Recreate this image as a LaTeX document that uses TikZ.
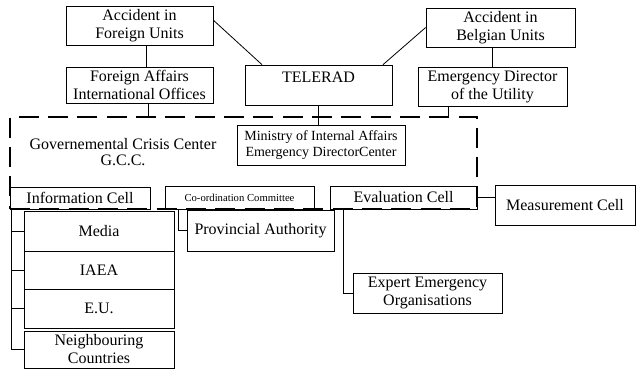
\documentclass[tikz,border=0pt]{standalone}
\usepackage{fontspec}
\setmainfont{Liberation Serif}
\usepackage{tikz}
\tikzstyle{box}=[draw, line width=0.5pt, align=center, inner sep=0pt, font=\fontsize{12}{13.5}\selectfont]
\tikzstyle{frame}=[draw, line width=1.6pt, dash pattern=on 15pt off 7pt]
\tikzstyle{link}=[draw=black, line width=0.6pt]

\begin{document}
\begin{tikzpicture}[x=0.75pt, y=-0.75pt]
		   \useasboundingbox (0,0) rectangle (637,370);
		   \begin{scope}
			   \node (accforeign) at (139.5, 25.5)[box, minimum width=110.25pt, minimum height=29.25pt] {Accident in\\Foreign Units};
			   \node (foreignaff) at (139.5, 85)[box, minimum width=110.25pt, minimum height=27pt] {Foreign Affairs\\International Offices};
			   \node (telerad) at (318.5, 85)[box, minimum width=110.25pt, minimum height=30pt, text depth=12pt] {TELERAD};
			   \node (accbelgian) at (500.5, 27.5)[box, minimum width=111.75pt, minimum height=29.25pt] {Accident in\\Belgian Units};
			   \node (emdirector) at (492.5, 86.5)[box, minimum width=111.75pt, minimum height=29.25pt] {Emergency Director\\of the Utility};

			   \node (gccframe) at (243.5, 163)[frame, minimum width=350.25pt, minimum height=69pt] {};
			   \node (gcc) at (123, 152)[align=center, font=\fontsize{12}{12}\selectfont] {Governemental Crisis Center\\G.C.C.};
			   \node (ministry) at (321, 145)[box, minimum width=126pt, minimum height=30pt, font=\fontsize{10.5}{12.5}\selectfont] {Ministry of Internal Affairs\\Emergency DirectorCenter};

			   \node (infocell) at (80, 198)[box, minimum width=105pt, minimum height=16.5pt] {Information Cell};
			   \node (coordcom) at (239.5, 197.5)[box, minimum width=111.75pt, minimum height=17.25pt, font=\fontsize{8}{9}\selectfont] {Co-ordination Committee};
			   \node (evalcell) at (403.5, 197.5)[box, minimum width=110.25pt, minimum height=17.25pt] {Evaluation Cell};
			   \node (meascell) at (565, 205)[box, minimum width=105pt, minimum height=30pt] {Measurement Cell};

			   \node (media) at (99, 231)[box, minimum width=112.5pt, minimum height=30pt] {Media};
			   \node (iaea) at (99, 270)[box, minimum width=112.5pt, minimum height=28.5pt] {IAEA};
			   \node (eu) at (99, 308.5)[box, minimum width=112.5pt, minimum height=29.25pt] {E.U.};
			   \node (neighbour) at (99, 349.5)[box, minimum width=112.5pt, minimum height=27.75pt] {Neighbouring\\Countries};

			   \node (provincial) at (260.5, 230.5)[box, minimum width=110.25pt, minimum height=30.75pt] {Provincial Authority};
			   \node (expert) at (427.5, 293)[box, minimum width=111.75pt, minimum height=30pt] {Expert Emergency\\Organisations};
		   \end{scope}
		   \begin{scope}
			   \path [link] ([xshift=5pt]accforeign.south) -- ([xshift=5pt]foreignaff.north);
			   \path [link] ([yshift=4pt]accforeign.east) -- ([xshift=13pt]telerad.north west);
			   \path [link] (accbelgian.west) -- ([xshift=-7pt]telerad.north east);
			   \path [link] (accbelgian.south -| emdirector.north) -- (emdirector.north);

			   \path [link] ([xshift=7pt]foreignaff.south) -- ([xshift=7pt]foreignaff.south |- gccframe.north);
			   \path [link] ([xshift=-33pt]emdirector.south) -- ([xshift=-33pt]emdirector.south |- gccframe.north);
			   \path [link] (telerad.south) -- (telerad.south |- ministry.north);

			   \foreach \n in {media, iaea, eu, neighbour}
				   \path [link] ([xshift=1.5pt]infocell.south west) |- (\n.west);
			   \path [link] ([xshift=10pt]coordcom.south west) |- (provincial.west);
			   \path [link] ([xshift=10pt]evalcell.south west) |- (expert.west);
			   \path [link] (evalcell.east) -- (evalcell.east -| meascell.west);
		   \end{scope}
	   \end{tikzpicture}
\end{document}
